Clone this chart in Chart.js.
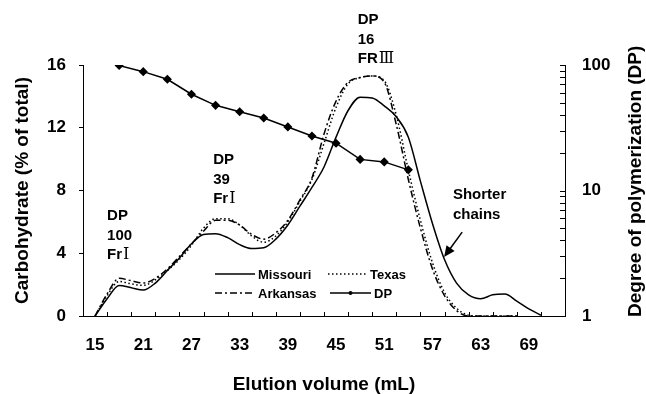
<!DOCTYPE html>
<html>
<head>
<meta charset="utf-8">
<script src="https://cdn.jsdelivr.net/npm/chart.js@4.4.1/dist/chart.umd.min.js"></script>
<style>
  html, body { margin: 0; padding: 0; background: #fff; }
</style>
</head>
<body>
<canvas id="chart" width="646" height="394"></canvas>
<script>
// elution volume (mL) for the three carbohydrate profiles
const elution = [15, 16.5, 18, 19.5, 21, 22.5, 24, 25.5, 27, 28.5, 30, 31.5, 33, 34.5, 36, 37.5, 39, 40.5, 42, 43.5,
  45, 46.5, 48, 49.5, 51, 52.5, 54, 55.5, 57, 58.5, 60, 61.5, 63, 64.5, 66, 67.5, 69, 70.5, 72];

// carbohydrate, % of total
const missouri = [0, 1.1, 1.95, 1.8, 1.65, 2.1, 2.9, 3.7, 4.6, 5.2, 5.25, 5.0, 4.55, 4.3, 4.35, 4.9, 5.8, 7.0, 8.2, 9.5,
  11.4, 13.1, 13.95, 13.9, 13.4, 12.7, 11.4, 8.6, 5.9, 3.6, 2.1, 1.35, 1.1, 1.35, 1.4, 0.95, 0.45, 0.05, null];
const texas = [0, 1.3, 2.2, 2.05, 1.95, 2.3, 2.9, 3.6, 4.5, 5.6, 6.2, 6.2, 5.8, 5.1, 4.7, 5.1, 6.0, 7.3, 8.7, 11.0,
  13.3, 14.8, 15.2, 15.3, 15.0, 12.8, 9.3, 6.1, 3.4, 1.5, 0.5, 0.05, 0, 0, 0, 0, null, null, null];
const arkansas = [0, 1.4, 2.4, 2.25, 2.1, 2.4, 3.0, 3.8, 4.6, 5.4, 6.1, 6.1, 5.8, 5.2, 4.9, 5.3, 6.1, 7.4, 8.8, 11.6,
  13.7, 14.9, 15.2, 15.3, 14.9, 12.2, 8.7, 5.6, 3.0, 1.3, 0.35, 0, 0, 0, 0, 0, null, null, null];

// degree of polymerization (right, log axis)
const dpVolume = [18, 21, 24, 27, 30, 33, 36, 39, 42, 45, 48, 51, 54];
const dpValues = [99, 88.5, 77, 58.5, 47.7, 42.4, 37.8, 32.1, 27.2, 23.8, 17.7, 16.9, 14.6];

const xTickLabels = [15, 21, 27, 33, 39, 45, 51, 57, 63, 69];
const carbTicks = [0, 4, 8, 12, 16];
const dpTicks = [1, 10, 100];

const notes = [
  { x: 16.5, y: 6.37, lines: ['DP', '100', 'FrⅠ'] },
  { x: 29.7, y: 9.94, lines: ['DP', '39', 'FrⅠ'] },
  { x: 47.7, y: 18.87, lines: ['DP', '16', 'FRⅢ'] },
  { x: 59.55, y: 7.71, lines: ['Shorter', 'chains'] }
];

const FONT = '"Liberation Sans", Arial, sans-serif';
const pairs = (xs, ys) => xs.map((x, i) => ({ x: x, y: ys[i] }));

// draws a line of text, roman numerals in a serif face
function noteText(ctx, t, x, y) {
  const parts = t.split(/([\u2160-\u217F]+)/);
  let cx = x;
  parts.forEach(p => {
    if (!p) return;
    ctx.font = /[\u2160-\u217F]/.test(p) ? '16px "DejaVu Serif", "DejaVu Sans", serif' : 'bold 15px ' + FONT;
    ctx.fillText(p, cx, y);
    cx += ctx.measureText(p).width + (/[\u2160-\u217F]/.test(p) ? 0 : 1);
  });
}

const decor = {
  id: 'decor',
  afterDraw(chart) {
    const ctx = chart.ctx;
    const xs = chart.scales.x, ys = chart.scales.y, dp = chart.scales.y1;
    const area = chart.chartArea;
    ctx.save();
    ctx.strokeStyle = '#000';
    ctx.fillStyle = '#000';
    ctx.lineWidth = 1;

    // inward tick marks on the bottom axis
    ctx.beginPath();
    for (let v = 16.5; v < xs.max; v += 3) {
      const px = Math.round(xs.getPixelForValue(v)) + 0.5;
      ctx.moveTo(px, area.bottom);
      ctx.lineTo(px, area.bottom - 4);
    }
    // inward log ticks on the right axis
    for (const d of [1, 10]) {
      for (let k = 1; k <= 10; k++) {
        const v = d * k;
        if (v === 1) continue;
        const py = Math.round(dp.getPixelForValue(v)) + 0.5;
        ctx.moveTo(area.right, py);
        ctx.lineTo(area.right - 5, py);
      }
    }
    ctx.stroke();

    // legend inside the plot
    const ds = chart.data.datasets;
    const cells = [
      { i: 0, x: 215, y: 274, len: 40 }, { i: 1, x: 328, y: 274, len: 39 },
      { i: 2, x: 215, y: 293, len: 40 }, { i: 3, x: 330, y: 293, len: 41 }
    ];
    ctx.font = 'bold 13px ' + FONT;
    ctx.textBaseline = 'middle';
    ctx.textAlign = 'left';
    cells.forEach(c => {
      const d = ds[c.i];
      ctx.save();
      ctx.lineWidth = d.borderWidth;
      ctx.setLineDash(d.borderDash || []);
      ctx.beginPath();
      ctx.moveTo(c.x, c.y);
      ctx.lineTo(c.x + c.len, c.y);
      ctx.stroke();
      ctx.restore();
      if (d.pointRadius > 0) {
        ctx.beginPath();
        ctx.arc(c.x + c.len / 2, c.y, 2, 0, Math.PI * 2);
        ctx.fill();
      }
      ctx.fillText(d.label, c.x + c.len + 3, c.y + 1);
    });

    // text notes
    notes.forEach(n => {
      const px = xs.getPixelForValue(n.x);
      const py = ys.getPixelForValue(n.y);
      n.lines.forEach((t, k) => noteText(ctx, t, px, py + k * 19.5));
    });

    // arrow to the shorter chains
    const ax0 = xs.getPixelForValue(60.7), ay0 = ys.getPixelForValue(5.35);
    const ax1 = xs.getPixelForValue(58.45), ay1 = ys.getPixelForValue(3.76);
    const ang = Math.atan2(ay1 - ay0, ax1 - ax0);
    ctx.lineWidth = 1.5;
    ctx.beginPath();
    ctx.moveTo(ax0, ay0);
    ctx.lineTo(ax1 - 8 * Math.cos(ang), ay1 - 8 * Math.sin(ang));
    ctx.stroke();
    ctx.beginPath();
    ctx.moveTo(ax1, ay1);
    ctx.lineTo(ax1 - 11 * Math.cos(ang) + 5 * Math.sin(ang), ay1 - 11 * Math.sin(ang) - 5 * Math.cos(ang));
    ctx.lineTo(ax1 - 11 * Math.cos(ang) - 5 * Math.sin(ang), ay1 - 11 * Math.sin(ang) + 5 * Math.cos(ang));
    ctx.closePath();
    ctx.fill();

    // right axis title, reading bottom to top
    ctx.font = 'bold 19px ' + FONT;
    ctx.translate(636, area.bottom + 1);
    ctx.rotate(-Math.PI / 2);
    ctx.textAlign = 'left';
    ctx.fillText('Degree of polymerization (DP)', 0, 0);
    ctx.restore();
  }
};

const tickFont = { family: FONT, size: 17, weight: 'bold' };

new Chart(document.getElementById('chart'), {
  type: 'line',
  data: {
    datasets: [
      { label: 'Missouri', data: pairs(elution, missouri), borderColor: '#000', borderWidth: 1.5,
        pointRadius: 0, cubicInterpolationMode: 'monotone', yAxisID: 'y' },
      { label: 'Texas', data: pairs(elution, texas), borderColor: '#000', borderWidth: 1.5, borderDash: [1.5, 2.5],
        pointRadius: 0, cubicInterpolationMode: 'monotone', yAxisID: 'y' },
      { label: 'Arkansas', data: pairs(elution, arkansas), borderColor: '#000', borderWidth: 1.5, borderDash: [7, 3, 2, 3],
        pointRadius: 0, cubicInterpolationMode: 'monotone', yAxisID: 'y' },
      { label: 'DP', data: pairs(dpVolume, dpValues), borderColor: '#000', backgroundColor: '#000', borderWidth: 1.5,
        pointStyle: 'rectRot', pointRadius: 3.5, tension: 0, yAxisID: 'y1' }
    ]
  },
  options: {
    responsive: false,
    animation: false,
    devicePixelRatio: 1,
    layout: { padding: { top: 65, left: 0, right: 0, bottom: 0 } },
    plugins: { legend: { display: false }, tooltip: { enabled: false } },
    scales: {
      x: {
        type: 'linear', min: 13.5, max: 73.5,
        afterBuildTicks: s => { s.ticks = xTickLabels.map(v => ({ value: v })); },
        afterFit: s => { s.height = 78; },
        grid: { display: false, drawTicks: false },
        border: { display: true, color: '#000', width: 1 },
        ticks: { color: '#000', font: tickFont, padding: 19, autoSkip: false, maxRotation: 0 },
        title: { display: true, text: 'Elution volume (mL)', color: '#000',
          font: { family: FONT, size: 19, weight: 'bold', lineHeight: 1 }, padding: { top: 0, bottom: 0 } }
      },
      y: {
        position: 'left', min: 0, max: 16,
        afterBuildTicks: s => { s.ticks = carbTicks.map(v => ({ value: v })); },
        afterFit: s => { s.width = 83; },
        grid: { display: true, drawOnChartArea: false, drawTicks: true, tickLength: 4, color: '#000' },
        border: { display: true, color: '#000', width: 1 },
        ticks: { color: '#000', font: tickFont, padding: 13 },
        title: { display: true, text: 'Carbohydrate (% of total)', color: '#000',
          font: { family: FONT, size: 19, weight: 'bold', lineHeight: 1 }, padding: { top: 13, bottom: 0 } }
      },
      y1: {
        type: 'logarithmic', position: 'right', min: 1, max: 100,
        afterBuildTicks: s => { s.ticks = dpTicks.map(v => ({ value: v })); },
        afterFit: s => { s.width = 81; },
        grid: { display: false, drawTicks: false },
        border: { display: true, color: '#000', width: 1 },
        ticks: { color: '#000', font: tickFont, padding: 17, callback: v => String(v) }
      }
    }
  },
  plugins: [decor]
});
</script>
</body>
</html>
